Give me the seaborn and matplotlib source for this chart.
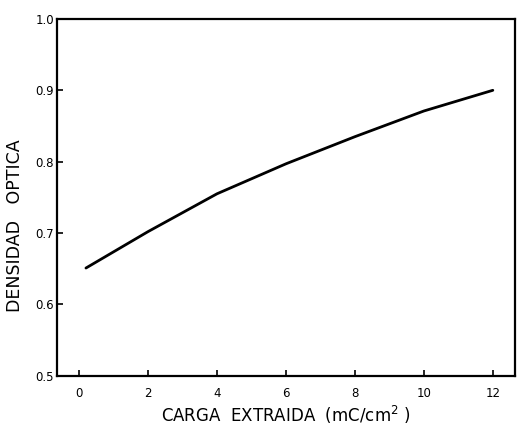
import matplotlib
matplotlib.use("Agg")
import matplotlib.pyplot as plt
import seaborn as sns
import pandas as pd

# values
carga = [0.2, 2, 4, 6, 8, 10, 12]
densidad = [0.651, 0.702, 0.755, 0.797, 0.835, 0.871, 0.900]
x_ticks = [0, 2, 4, 6, 8, 10, 12]
y_ticks = [0.5, 0.6, 0.7, 0.8, 0.9, 1.0]

sns.set_style("ticks")
plt.rcParams["font.family"] = ["DejaVu Sans"]
plt.rcParams["text.color"] = "black"
plt.rcParams["axes.labelcolor"] = "black"

df = pd.DataFrame({"carga": carga, "densidad": densidad})

fig = plt.figure(figsize=(5.18, 4.30), dpi=100)
ax = fig.add_axes([0.110, 0.126, 0.884, 0.830])

sns.lineplot(data=df, x="carga", y="densidad", ax=ax, color="black", linewidth=2.0)

ax.set_xlim(-0.64, 12.64)
ax.set_ylim(0.5, 1.0)
ax.set_xticks(x_ticks)
ax.set_xticklabels([str(t) for t in x_ticks])
ax.set_yticks(y_ticks)
ax.set_yticklabels([f"{t:.1f}" for t in y_ticks])
ax.tick_params(direction="in", length=4, width=1.2, labelsize=8.5,
               colors="black", labelcolor="black")
ax.tick_params(axis="x", pad=8)
ax.tick_params(axis="y", pad=2)

for side in ["left", "right", "top", "bottom"]:
    ax.spines[side].set_visible(True)
    ax.spines[side].set_color("black")
    ax.spines[side].set_linewidth(1.6)

ax.set_xlabel("CARGA  EXTRAIDA  (mC/cm$^2$ )", fontsize=12, labelpad=3)
ax.set_ylabel("DENSIDAD   OPTICA", fontsize=12.5)
ax.yaxis.set_label_coords(-0.072, 0.42)

fig.savefig("out.png", dpi=100, facecolor="white")
plt.close(fig)
